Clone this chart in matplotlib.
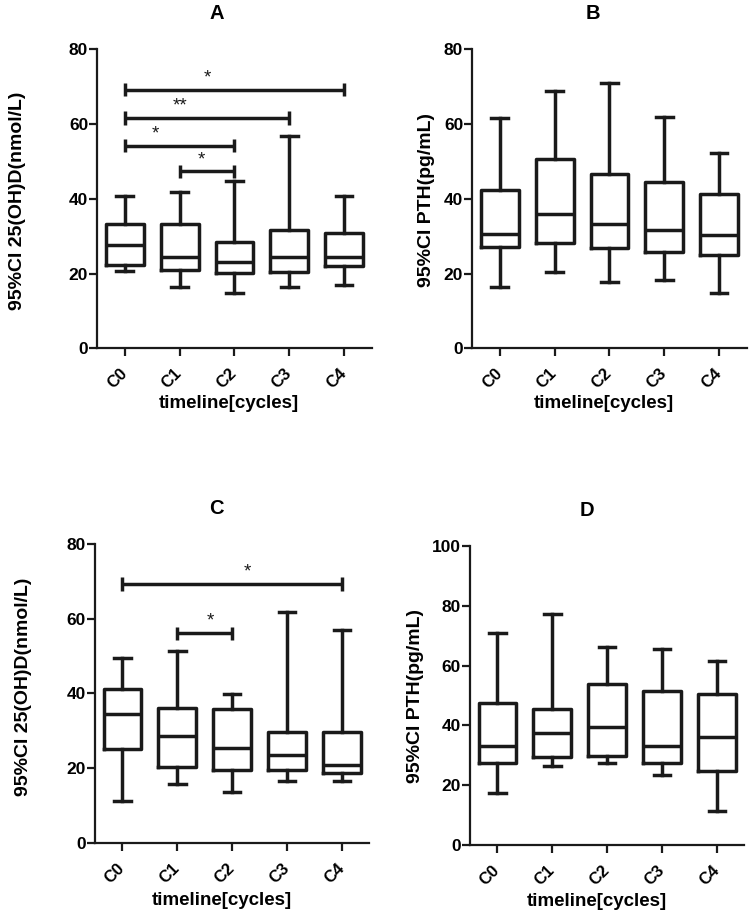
import matplotlib
matplotlib.use("Agg")
import matplotlib.pyplot as plt

plt.rcParams['font.family'] = ['Liberation Sans', 'DejaVu Sans']
plt.rcParams['font.weight'] = 'bold'

categories = ["C0", "C1", "C2", "C3", "C4"]

# Panel A: 25(OH)D
a_whislo = [20.7, 16.3, 14.7, 16.5, 16.9]
a_q1 = [22.3, 21.0, 20.1, 20.5, 22.1]
a_med = [27.5, 24.4, 23.2, 24.5, 24.3]
a_q3 = [33.3, 33.2, 28.3, 31.7, 30.8]
a_whishi = [40.8, 41.8, 44.8, 56.9, 40.8]

# Panel B: PTH
b_whislo = [16.3, 20.5, 17.7, 18.3, 14.9]
b_q1 = [27.0, 28.2, 26.8, 25.8, 25.0]
b_med = [30.6, 35.9, 33.3, 31.7, 30.3]
b_q3 = [42.4, 50.7, 46.6, 44.5, 41.3]
b_whishi = [61.5, 68.9, 71.0, 61.8, 52.2]

# Panel C: 25(OH)D
c_whislo = [11.3, 15.8, 13.6, 16.4, 16.4]
c_q1 = [25.0, 20.2, 19.6, 19.6, 18.6]
c_med = [34.6, 28.6, 25.4, 23.4, 20.7]
c_q3 = [41.1, 36.0, 35.8, 29.6, 29.6]
c_whishi = [49.5, 51.4, 39.7, 61.9, 57.1]

# Panel D: PTH
d_whislo = [17.5, 26.4, 27.5, 23.4, 11.4]
d_q1 = [27.3, 29.3, 29.9, 27.3, 24.6]
d_med = [33.2, 37.6, 39.4, 33.1, 36.2]
d_q3 = [47.6, 45.4, 53.8, 51.6, 50.4]
d_whishi = [70.8, 77.3, 66.3, 65.4, 61.5]

# significance brackets
a_sig_start = [0, 0, 0, 1]
a_sig_end = [4, 3, 2, 2]
a_sig_y = [69.2, 61.6, 54.2, 47.3]
a_sig_label = ["*", "**", "*", "*"]
a_sig_textx = [1.51, 1.0, 0.55, 1.4]

c_sig_start = [0, 1]
c_sig_end = [4, 2]
c_sig_y = [69.3, 56.1]
c_sig_label = ["*", "*"]
c_sig_textx = [2.27, 1.6]

ylabel_vitd = "95%CI 25(OH)D(nmol/L)"
ylabel_pth = "95%CI PTH(pg/mL)"
xlabel = "timeline[cycles]"

fig = plt.figure(figsize=(7.5, 9.16), dpi=100)

LW = 2.5
INK = '#1a1a1a'

def panel(rect, title, title_x, lo, q1, med, q3, hi, ymax, yticks, ylabel,
          ylab_xy, xlab_xy, sig=None):
    ax = fig.add_axes(rect)
    stats = []
    for i in range(len(categories)):
        stats.append(dict(whislo=lo[i], q1=q1[i], med=med[i], q3=q3[i],
                          whishi=hi[i], label=categories[i]))
    ax.bxp(stats, positions=range(len(categories)), widths=0.69,
           showfliers=False,
           boxprops=dict(color=INK, linewidth=LW),
           medianprops=dict(color=INK, linewidth=LW),
           whiskerprops=dict(color=INK, linewidth=LW),
           capprops=dict(color=INK, linewidth=LW),
           capwidths=0.3)
    ax.set_xlim(-0.5, 4.5)
    ax.set_ylim(0, ymax)
    ax.set_yticks(yticks)
    ax.set_xticks(range(len(categories)))
    ax.set_xticklabels(categories, rotation=45, ha='right', va='center',
                       rotation_mode='anchor', fontsize=12, fontweight='bold')
    for lab in ax.get_yticklabels():
        lab.set_fontsize(12.5)
        lab.set_fontweight('bold')
    ax.spines['top'].set_visible(False)
    ax.spines['right'].set_visible(False)
    for s in ['left', 'bottom']:
        ax.spines[s].set_linewidth(1.6)
        ax.spines[s].set_color(INK)
    ax.tick_params(axis='both', direction='out', length=5.5, width=1.6,
                   color=INK)
    ax.tick_params(axis='y', pad=1)
    ax.tick_params(axis='x', pad=11)
    ax.set_ylabel(ylabel, fontsize=14, fontweight='bold', va='center')
    ax.yaxis.set_label_coords(*ylab_xy)
    ax.set_xlabel(xlabel, fontsize=13.5, fontweight='bold', va='center')
    ax.xaxis.set_label_coords(*xlab_xy)
    ax.text(title_x, 1.12, title, transform=ax.transAxes, ha='center',
            va='center', fontsize=14.5, fontweight='bold')
    if sig is not None:
        starts, ends, ys, labels, tx = sig
        for s, e, y, l, x in zip(starts, ends, ys, labels, tx):
            ax.plot([s, e], [y, y], color=INK, lw=LW, solid_capstyle='butt')
            ax.plot([s, s], [y - 1.8, y + 1.8], color=INK, lw=LW,
                    solid_capstyle='butt')
            ax.plot([e, e], [y - 1.8, y + 1.8], color=INK, lw=LW,
                    solid_capstyle='butt')
            ax.text(x, y + 2.0, l, ha='center', va='baseline', fontsize=13.5,
                    fontweight='normal', color=INK)
    return ax

panel([0.1297, 0.6198, 0.3659, 0.3264], "A", 0.435,
      a_whislo, a_q1, a_med, a_q3, a_whishi,
      80, [0, 20, 40, 60, 80], ylabel_vitd, (-0.29, 0.493), (0.48, -0.185),
      (a_sig_start, a_sig_end, a_sig_y, a_sig_label, a_sig_textx))
panel([0.6297, 0.6198, 0.3659, 0.3264], "B", 0.44,
      b_whislo, b_q1, b_med, b_q3, b_whishi,
      80, [0, 20, 40, 60, 80], ylabel_pth, (-0.168, 0.495), (0.48, -0.185))
panel([0.1267, 0.0800, 0.3657, 0.3261], "C", 0.444,
      c_whislo, c_q1, c_med, c_q3, c_whishi,
      80, [0, 20, 40, 60, 80], ylabel_vitd, (-0.259, 0.521), (0.463, -0.194),
      (c_sig_start, c_sig_end, c_sig_y, c_sig_label, c_sig_textx))
panel([0.6267, 0.0775, 0.3657, 0.3264], "D", 0.425,
      d_whislo, d_q1, d_med, d_q3, d_whishi,
      100, [0, 20, 40, 60, 80, 100], ylabel_pth, (-0.197, 0.5), (0.463, -0.19))

fig.savefig("out.png", dpi=100)
